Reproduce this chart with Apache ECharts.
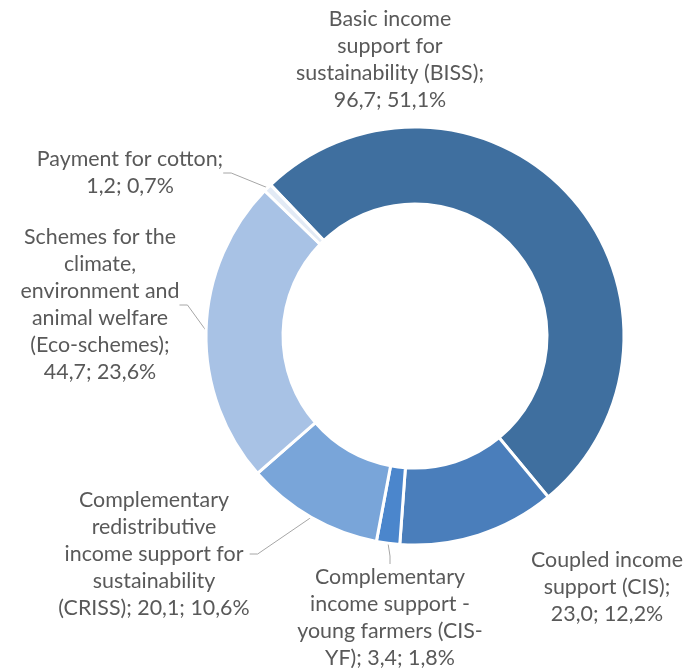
<!DOCTYPE html>
<html>
<head>
<meta charset="utf-8">
<script src="https://cdn.jsdelivr.net/npm/echarts/dist/echarts.min.js"></script>
<style>
html,body{margin:0;padding:0;background:#ffffff;}
#chart{width:689px;height:668px;}
</style>
</head>
<body>
<div id="chart"></div>
<script>
// ---- data ----
const categories = [
  "Basic income support for sustainability (BISS)",
  "Coupled income support (CIS)",
  "Complementary income support - young farmers (CIS-YF)",
  "Complementary redistributive income support for sustainability (CRISS)",
  "Schemes for the climate, environment and animal welfare (Eco-schemes)",
  "Payment for cotton"
];
const values = [96.7, 23.0, 3.4, 20.1, 44.7, 1.2];
const valueTexts = ["96,7", "23,0", "3,4", "20,1", "44,7", "1,2"];
const percentTexts = ["51,1%", "12,2%", "1,8%", "10,6%", "23,6%", "0,7%"];
// wrapped label heads as in the original
const labelHeads = [
  "Basic income\nsupport for\nsustainability (BISS);\n",
  "Coupled income\nsupport (CIS);\n",
  "Complementary\nincome support -\nyoung farmers (CIS-\nYF); ",
  "Complementary\nredistributive\nincome support for\nsustainability\n(CRISS); ",
  "Schemes for the\nclimate,\nenvironment and\nanimal welfare\n(Eco-schemes);\n",
  "Payment for cotton;\n"
];

// ---- styles / layout ----
const colors = ["#3f6f9f", "#4a7ebb", "#4b86cc", "#79a5d9", "#a8c2e5", "#e2eaf5"];
const labelCenters = [[390, 60], [607, 587], [390, 618], [154, 554], [100, 305], [130, 173]];
const showGuide = [false, false, true, true, true, true];

const ctx = document.createElement('canvas').getContext('2d');
ctx.font = '100px Lato';
const fontSize = Math.round(100 * 150 / ctx.measureText('Complementary').width * 10) / 10;

const data = values.map((v, i) => ({
  name: categories[i],
  value: v,
  label: { formatter: labelHeads[i] + valueTexts[i] + '; ' + percentTexts[i] },
  labelLine: { show: showGuide[i] },
  itemStyle: { color: colors[i] }
}));

const chart = echarts.init(document.getElementById('chart'), null, { renderer: 'canvas' });
chart.setOption({
  animation: false,
  series: [{
    type: 'pie',
    center: [415, 336],
    radius: [132, 209],
    startAngle: 133.7,
    clockwise: true,
    avoidLabelOverlap: false,
    emphasis: { disabled: true },
    itemStyle: { borderColor: '#ffffff', borderWidth: 3 },
    label: {
      show: true,
      position: 'outside',
      fontFamily: 'Lato',
      fontSize: fontSize,
      lineHeight: 27,
      color: '#595959',
      align: 'center'
    },
    labelLine: {
      show: true,
      length: 10,
      length2: 8,
      lineStyle: { color: '#a6a6a6', width: 1 }
    },
    labelLayout: function (params) {
      const p = labelCenters[params.dataIndex];
      return { x: p[0], y: p[1], align: 'center', verticalAlign: 'middle', hideOverlap: false, moveOverlap: null };
    },
    data: data
  }]
});
</script>
</body>
</html>
